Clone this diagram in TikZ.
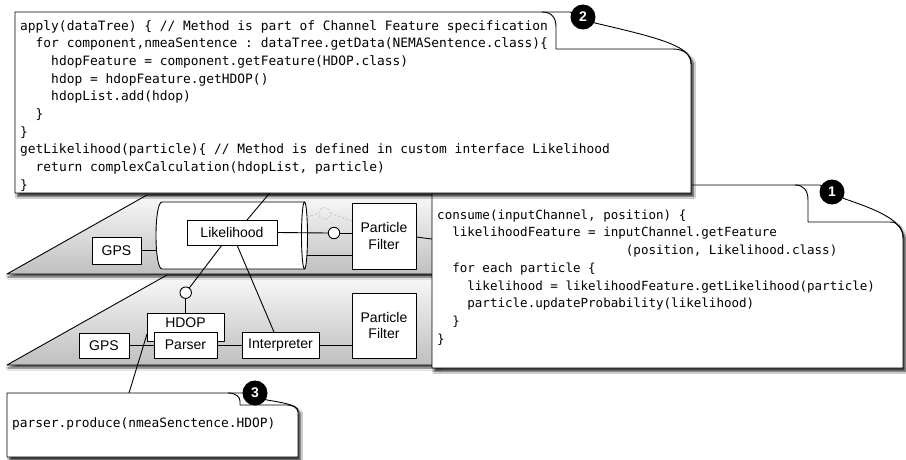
\documentclass[tikz,border=0pt]{standalone}
\usepackage{fontspec}
\setmainfont{Liberation Sans}
\newfontfamily\codefont{DejaVu Sans Mono}
\usetikzlibrary{shadows.blur}
\newcommand\codeind[1]{\hspace*{#1\fontcharwd\font`x}}
\frenchspacing
\begin{document}
\begin{tikzpicture}[x=1pt,y=-1pt, line join=round,
  box/.style={draw, fill=white, line width=0.9pt, inner sep=0pt, font=\fontsize{14}{16.5}\selectfont, align=center},
  conn/.style={line width=0.9pt},
  ghost/.style={draw=gray!45, line width=0.9pt, dash pattern=on 2pt off 2pt},
  port/.style={circle, draw, fill=white, line width=0.9pt, minimum size=11.5pt, inner sep=0pt},
  note/.style={fill=white, draw, line width=0.9pt, blur shadow={shadow xshift=2.5pt, shadow yshift=-3.5pt, shadow blur steps=8, shadow opacity=80}},
  fold/.style={draw, line width=0.9pt},
  badge/.style={circle, fill=black, text=white, inner sep=0pt, minimum size=25pt, font=\bfseries\fontsize{14}{14}\selectfont},
  code/.style={anchor=north west, inner sep=0pt, align=left},
  plane/.style={top color=gray!5, bottom color=gray!50, draw, line width=0.9pt, blur shadow={shadow xshift=1pt, shadow yshift=-3pt, shadow blur steps=6, shadow opacity=70}}
]
\useasboundingbox (0,0) rectangle (906,460);
\fill[white] (0,0) rectangle (906,460);

% planes
\path[plane] (7,365) -- (167,275) -- (440,275) -- (440,365) -- cycle;
\path[plane] (7,274) -- (147,195) -- (440,195) -- (440,274) -- cycle;

% upper layer
\node[inner sep=0pt, minimum width=151pt, minimum height=67pt] (cyl) at (231.5,235.5) {};
\path[draw, fill=white, line width=0.9pt] (304.5,202) -- (162,202) .. controls (154,202) and (154,269) .. (162,269) -- (304.5,269);
\path[draw, fill=white, line width=0.9pt] (304.5,235.5) ellipse [x radius=3, y radius=33.5];

\node[box, minimum width=49pt, minimum height=27pt] (gps1) at (116.5,250.5) {GPS};
\node[box, minimum width=90pt, minimum height=25pt] (lik) at (232,232.5) {Likelihood};
\node[box, minimum width=64pt, minimum height=66pt] (pf1) at (384,236) {Particle\\Filter};
\node[port] (c1) at (334,233) {};
\node[port, ghost, fill=none] (g1) at (324.5,213.5) {};
\coordinate (ghostA) at (307,217);
\coordinate (ghostB) at (352,221);
\coordinate (cylR) at (307,255);
\coordinate (pfOut) at (416,237);
\coordinate (noteIn) at (432,239);

\draw[conn] (gps1.east) -- (gps1.east -| cyl.west);
\draw[conn] (lik.east) -- (c1.west);
\draw[conn] (c1.east) -- (c1.east -| pf1.west);
\draw[conn] (cylR) -- (cylR -| pf1.west);
\draw[ghost] (ghostA) -- (g1.west);
\draw[ghost] (g1.east) -- (ghostB);
\draw[conn] (pfOut) -- (noteIn);

% lower layer
\node[box, minimum width=50pt, minimum height=25pt] (gps2) at (104,345.5) {GPS};
\node[box, minimum width=77pt, minimum height=28pt, text depth=8pt] (hdop) at (185.5,327) {HDOP};
\node[box, minimum width=63pt, minimum height=26pt] (parser) at (185.5,345) {Parser};
\node[box, minimum width=77pt, minimum height=26pt] (interp) at (280.5,345) {Interpreter};
\node[box, minimum width=64pt, minimum height=65pt] (pf2) at (384,325.5) {Particle\\Filter};
\node[port] (c2) at (185.7,292.7) {};

\draw[conn] (gps2.east) -- (gps2.east -| parser.west);
\draw[conn] (parser.east) -- (interp.west);
\draw[conn] (interp.east) -- (interp.east -| pf2.west);
\coordinate (likA) at (222,245);
\coordinate (likB) at (237,245);
\coordinate (likC) at (247,220);
\coordinate (interpTop) at (274,332);
\draw[conn] (likA) -- (c2);
\draw[conn] (c2.south) -- (c2.south |- hdop.north);
\draw[conn] (likB) -- (interpTop);

% pointers to notes
\coordinate (note2In) at (274,188);
\coordinate (hdopPt) at (147,334);
\coordinate (note3In) at (129,393);
\draw[conn] (likC) -- (note2In);
\draw[conn] (note3In) -- (hdopPt);

% note 1
\path[note] (432,185) -- (820,185) -- (845,199) .. controls (878,210) and (900,220) .. (903,235) -- (903,368) -- (432,368) -- cycle;
\draw[fold] (795,185) .. controls (804,185) and (808,191) .. (808,200) -- (808,222) -- (890,222) .. controls (898,222) and (903,228) .. (903,238);
\node[code, font=\codefont\fontsize{12.54}{17.7}\selectfont] (code1) at (437,209.5) {consume(inputChannel, position) \{\\
\codeind{2}likelihoodFeature = inputChannel.getFeature\\
\codeind{25}(position, Likelihood.class)\\
\codeind{2}for each particle \{\\
\codeind{4}likelihood = likelihoodFeature.getLikelihood(particle)\\
\codeind{4}particle.updateProbability(likelihood)\\
\codeind{2}\}\\
\}};
\node[badge] (b1) at (832,192) {1};

% note 2
\path[note] (15,12) -- (570,12) -- (595,23) .. controls (650,36) and (686,44) .. (691,60) -- (691,193) -- (15,193) -- cycle;
\draw[fold] (542,12) .. controls (552,12) and (556,18) .. (556,27) -- (556,49) -- (673,49) .. controls (684,49) and (691,55) .. (691,64);
\node[code, font=\codefont\fontsize{12.89}{17.7}\selectfont] (code2) at (20,20) {apply(dataTree) \{ // Method is part of Channel Feature specification\\
\codeind{2}for component,nmeaSentence : dataTree.getData(NEMASentence.class)\{\\
\codeind{4}hdopFeature = component.getFeature(HDOP.class)\\
\codeind{4}hdop = hdopFeature.getHDOP()\\
\codeind{4}hdopList.add(hdop)\\
\codeind{2}\}\\
\}\\
getLikelihood(particle)\{ // Method is defined in custom interface Likelihood\\
\codeind{2}return complexCalculation(hdopList, particle)\\
\}};
\node[badge] (b2) at (583,17) {2};

% note 3
\path[note] (7,393) -- (243,393) -- (267,400) .. controls (285,403) and (296,405) .. (298,410) -- (298,457) -- (7,457) -- cycle;
\draw[fold] (228,393) .. controls (236,393) and (240,397) .. (240,401) -- (240,405) -- (287,405) .. controls (293,405) and (298,408) .. (298,412);
\node[code, font=\codefont\fontsize{12.86}{17.7}\selectfont] (code3) at (12,417.5) {parser.produce(nmeaSenctence.HDOP)};
\node[badge] (b3) at (255,393) {3};
\end{tikzpicture}
\end{document}
